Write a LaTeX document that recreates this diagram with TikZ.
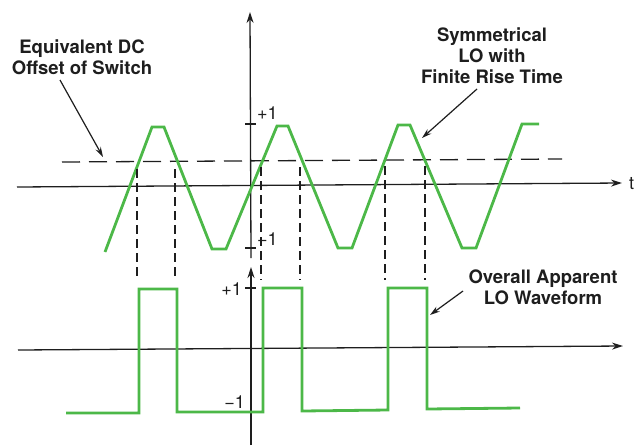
\documentclass[tikz,border=0pt]{standalone}
\usepackage{fontspec}
\setmainfont{TeX Gyre Heros}
\usetikzlibrary{arrows.meta}
\definecolor{wave}{RGB}{76,184,72}
\definecolor{ink}{RGB}{30,30,30}
\tikzset{
  axis/.style={draw=ink,line width=1.3pt},
  axisarrow/.style={axis,-{Stealth[length=11pt,width=7pt]}},
  tickmark/.style={draw=ink,line width=1.3pt},
  wavel/.style={draw=wave,line width=2.8pt,line join=miter},
  dcline/.style={draw=ink,line width=1.3pt,dash pattern=on 18pt off 9pt},
  proj/.style={draw=ink,line width=1.3pt,dash pattern=on 9pt off 5pt},
  callout/.style={draw=ink,line width=1.2pt,-{Stealth[length=10pt,width=6pt]}},
  lbl/.style={font=\fontsize{18.5}{21}\selectfont\bfseries,text=ink,align=center,inner sep=0pt},
  num/.style={font=\fontsize{18}{20}\selectfont,text=ink,inner sep=0pt}
}
\begin{document}
\begin{tikzpicture}[x=1pt,y=-1pt]
\useasboundingbox (0,0) rectangle (637,445);
% ---- top graph ----
\coordinate (tL) at (17,187);
\coordinate (tR) at (622,183);
\coordinate (vB) at (251,258);
\coordinate (vT) at (250,12);
\draw[axisarrow] (tL) -- (tR);
\draw[axisarrow] (vB) -- (vT);
\coordinate (p1a) at (245,124); \coordinate (p1b) at (256,124);
\coordinate (m1a) at (245,248); \coordinate (m1b) at (256,248);
\draw[tickmark] (p1a) -- (p1b);
\draw[tickmark] (m1a) -- (m1b);
\node[num,anchor=west] (tp1) at (257,113) {+1};
\node[num,anchor=west] (tm1) at (257,239) {−1};
\node[num,anchor=west] (tlab) at (629,184) {t};
% DC offset
\coordinate (dcL) at (62,162);
\coordinate (dcR) at (562,159);
\draw[dcline] (dcL) -- (dcR);
% triangle LO
\draw[wavel] (105,252) -- (152,127) -- (164,127) -- (212,249) -- (226,249)
  -- (277,126) -- (288,126) -- (338,248) -- (352,248) -- (398,125) -- (410,125)
  -- (462,248) -- (476,248) -- (522,124) -- (539,124);
% projection lines
\foreach \x/\ys in {137/169,175/169,261/167,300/167,385/166,425/166}{
  \coordinate (pt\x) at (\x,\ys);
  \coordinate (pb\x) at (\x,280);
  \draw[proj] (pt\x) -- (pb\x);
}
% ---- bottom graph ----
\coordinate (bL) at (18,350);
\coordinate (bR) at (623,346);
\coordinate (bvB) at (251,445);
\coordinate (bvT) at (251,267);
\draw[axisarrow] (bL) -- (bR);
\draw[axisarrow] (bvB) -- (bvT);
\coordinate (bp1a) at (245,288); \coordinate (bp1b) at (256,288);
\draw[tickmark] (bp1a) -- (bp1b);
\node[num,anchor=east] (bp1) at (242,289) {+1};
\node[num,anchor=east] (bm1) at (245,402) {−1};
% square wave
\draw[wavel] (66,413) -- (139,413) -- (139,289) -- (177,289) -- (177,412)
  -- (263,412) -- (263,288) -- (302,288) -- (302,411) -- (388,410)
  -- (388,288) -- (427,288) -- (427,409) -- (520,408);
% ---- labels ----
\node[lbl] (dc) at (82,57) {Equivalent DC\\Offset of Switch};
\node[lbl] (sym) at (492,56) {Symmetrical\\LO with\\Finite Rise Time};
\node[lbl] (ova) at (543,287) {Overall Apparent\\LO Waveform};
\coordinate (dcTip) at (103,157);
\coordinate (symTip) at (422,138);
\coordinate (ovaTip) at (430,315);
\coordinate (dcS) at (60,80);
\coordinate (symS) at (477,89);
\coordinate (ovaS) at (463,291);
\draw[callout] (dcS) -- (dcTip);
\draw[callout] (symS) -- (symTip);
\draw[callout] (ovaS) -- (ovaTip);
\end{tikzpicture}
\end{document}
